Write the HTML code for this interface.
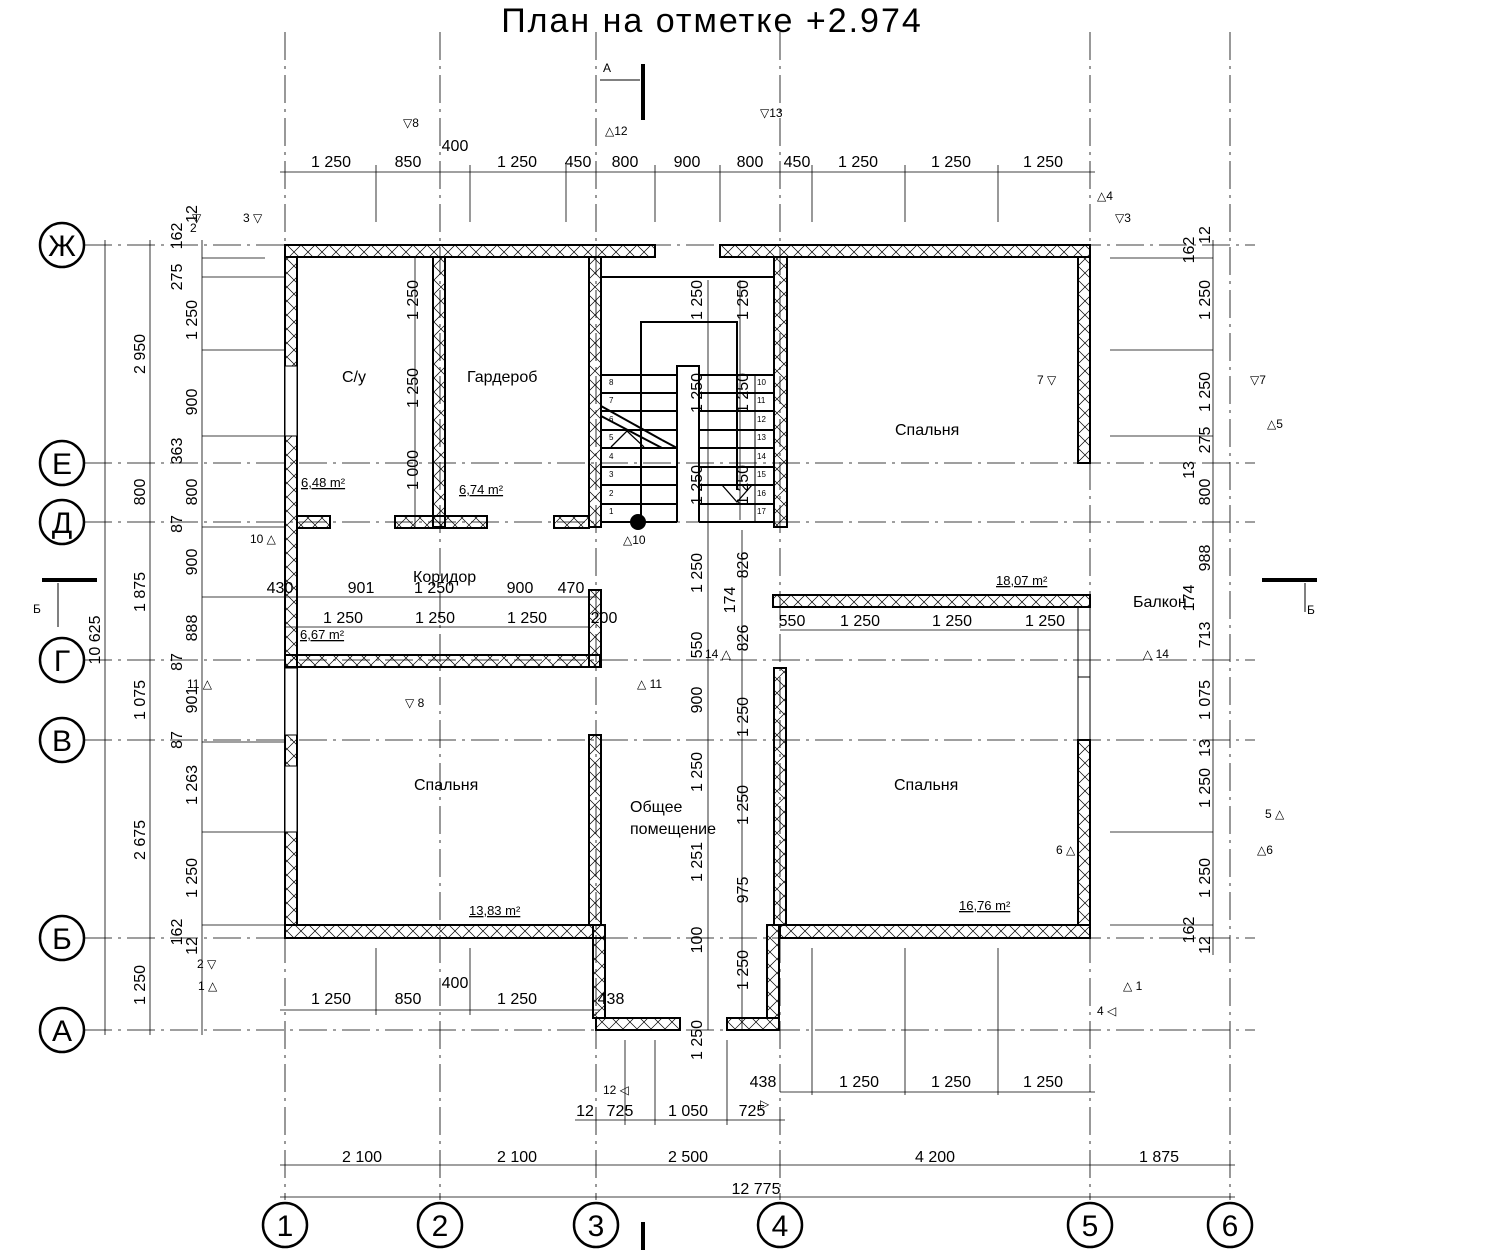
<!DOCTYPE html>
<html><head><meta charset="utf-8"><style>
html,body{margin:0;padding:0;background:#fff}
svg{display:block}
text{font-family:"Liberation Sans","DejaVu Sans",sans-serif;fill:#000}
.d{font-size:16px}
.s{font-size:12px}
.r{font-size:16px}
</style></head><body>
<svg width="1500" height="1250" viewBox="0 0 1500 1250" xmlns="http://www.w3.org/2000/svg">
<defs>
<pattern id="h" width="14" height="14" patternUnits="userSpaceOnUse">
<path d="M0 0L14 14M14 0L0 14" stroke="#000" stroke-width="0.7"/>
</pattern>
</defs>
<text x="712" y="32" text-anchor="middle" style="font-size:34px;letter-spacing:2px">План на отметке +2.974</text>

<!-- grid lines -->
<g stroke="#000" stroke-width="0.8" stroke-dasharray="28,6,3,6">
<line x1="285" y1="32" x2="285" y2="1200"/>
<line x1="440" y1="32" x2="440" y2="1200"/>
<line x1="596" y1="32" x2="596" y2="1200"/>
<line x1="780" y1="32" x2="780" y2="1200"/>
<line x1="1090" y1="32" x2="1090" y2="1200"/>
<line x1="1230" y1="32" x2="1230" y2="1200"/>
<line x1="84" y1="245" x2="1255" y2="245"/>
<line x1="84" y1="463" x2="1255" y2="463"/>
<line x1="84" y1="522" x2="1255" y2="522"/>
<line x1="84" y1="660" x2="1255" y2="660"/>
<line x1="84" y1="740" x2="1255" y2="740"/>
<line x1="84" y1="938" x2="1255" y2="938"/>
<line x1="84" y1="1030" x2="1255" y2="1030"/>
</g>
<g fill="none" stroke="#000" stroke-width="2.5">
<circle cx="62" cy="245" r="22"/><circle cx="62" cy="463" r="22"/><circle cx="62" cy="522" r="22"/>
<circle cx="62" cy="660" r="22"/><circle cx="62" cy="740" r="22"/><circle cx="62" cy="938" r="22"/><circle cx="62" cy="1030" r="22"/>
<circle cx="285" cy="1225" r="22"/><circle cx="440" cy="1225" r="22"/><circle cx="596" cy="1225" r="22"/>
<circle cx="780" cy="1225" r="22"/><circle cx="1090" cy="1225" r="22"/><circle cx="1230" cy="1225" r="22"/>
</g>
<g style="font-size:30px" text-anchor="middle">
<text x="62" y="256">Ж</text><text x="62" y="474">Е</text><text x="62" y="533">Д</text><text x="62" y="671">Г</text>
<text x="62" y="751">В</text><text x="62" y="949">Б</text><text x="62" y="1041">А</text>
<text x="285" y="1236">1</text><text x="440" y="1236">2</text><text x="596" y="1236">3</text>
<text x="780" y="1236">4</text><text x="1090" y="1236">5</text><text x="1230" y="1236">6</text>
</g>

<g stroke="#000" stroke-width="0.8">
<line x1="280" y1="172" x2="1095" y2="172"/>
<line x1="280" y1="1010" x2="600" y2="1010"/>
<line x1="780" y1="1092" x2="1095" y2="1092"/>
<line x1="575" y1="1120" x2="785" y2="1120"/>
<line x1="280" y1="1165" x2="1235" y2="1165"/>
<line x1="280" y1="1197" x2="1235" y2="1197"/>
<line x1="105" y1="240" x2="105" y2="1035"/>
<line x1="150" y1="240" x2="150" y2="1035"/>
<line x1="202" y1="240" x2="202" y2="1035"/>
<line x1="1213" y1="240" x2="1213" y2="955"/>
<line x1="285" y1="597" x2="596" y2="597"/>
<line x1="285" y1="627" x2="590" y2="627"/>
<line x1="780" y1="630" x2="1090" y2="630"/>
<line x1="415" y1="257" x2="415" y2="527"/>
<line x1="708" y1="280" x2="708" y2="1030"/>
<line x1="740" y1="280" x2="740" y2="520"/>
<line x1="742" y1="530" x2="742" y2="1030"/>
<line x1="376" y1="165" x2="376" y2="222"/><line x1="470" y1="165" x2="470" y2="222"/>
<line x1="566" y1="165" x2="566" y2="222"/><line x1="655" y1="165" x2="655" y2="222"/>
<line x1="720" y1="165" x2="720" y2="222"/><line x1="812" y1="165" x2="812" y2="222"/>
<line x1="905" y1="165" x2="905" y2="222"/><line x1="998" y1="165" x2="998" y2="222"/>
<line x1="202" y1="258" x2="265" y2="258"/><line x1="202" y1="277" x2="285" y2="277"/>
<line x1="202" y1="350" x2="285" y2="350"/><line x1="202" y1="436" x2="285" y2="436"/>
<line x1="202" y1="527" x2="285" y2="527"/><line x1="202" y1="597" x2="285" y2="597"/>
<line x1="202" y1="742" x2="285" y2="742"/><line x1="202" y1="832" x2="285" y2="832"/>
<line x1="202" y1="925" x2="285" y2="925"/>
<line x1="1110" y1="258" x2="1213" y2="258"/><line x1="1110" y1="350" x2="1213" y2="350"/>
<line x1="1110" y1="436" x2="1213" y2="436"/><line x1="1110" y1="832" x2="1213" y2="832"/>
<line x1="1110" y1="925" x2="1213" y2="925"/>
<line x1="376" y1="948" x2="376" y2="1015"/><line x1="470" y1="948" x2="470" y2="1015"/>
<line x1="812" y1="948" x2="812" y2="1095"/><line x1="905" y1="948" x2="905" y2="1095"/>
<line x1="998" y1="948" x2="998" y2="1095"/>
<line x1="625" y1="1040" x2="625" y2="1125"/><line x1="655" y1="1040" x2="655" y2="1125"/>
<line x1="727" y1="1040" x2="727" y2="1125"/>
</g>

<g fill="url(#h)" stroke="#000" stroke-width="2">
<rect x="285" y="245" width="370" height="12"/>
<rect x="720" y="245" width="370" height="12"/>
<rect x="285" y="257" width="12" height="668"/>
<rect x="433" y="257" width="12" height="270"/>
<rect x="589" y="257" width="12" height="270"/>
<rect x="589" y="590" width="12" height="77"/>
<rect x="589" y="735" width="12" height="190"/>
<rect x="774" y="257" width="13" height="270"/>
<rect x="774" y="668" width="12" height="257"/>
<rect x="1078" y="257" width="12" height="206"/>
<rect x="1078" y="740" width="12" height="185"/>
<rect x="285" y="925" width="320" height="13"/>
<rect x="780" y="925" width="310" height="13"/>
<rect x="593" y="925" width="12" height="93"/>
<rect x="767" y="925" width="12" height="93"/>
<rect x="297" y="516" width="33" height="12"/>
<rect x="395" y="516" width="92" height="12"/>
<rect x="554" y="516" width="35" height="12"/>
<rect x="285" y="655" width="315" height="12"/>
<rect x="773" y="595" width="317" height="12"/>
<rect x="596" y="1018" width="84" height="12"/>
<rect x="727" y="1018" width="52" height="12"/>
</g>
<!-- windows in left wall -->
<g fill="#fff" stroke="#000" stroke-width="1">
<rect x="285" y="366" width="12" height="70"/>
<rect x="285" y="668" width="12" height="67"/>
<rect x="285" y="766" width="12" height="66"/>
</g>
<g stroke="#000" stroke-width="1" fill="none">
<line x1="1078" y1="607" x2="1078" y2="740"/><line x1="1090" y1="607" x2="1090" y2="740"/>
<line x1="1078" y1="677" x2="1090" y2="677"/>
</g>

<g stroke="#000" stroke-width="2" fill="none">
<polyline points="601,277 774,277 774,520"/>
<line x1="601" y1="277" x2="601" y2="520"/>
<polyline points="641,520 641,322 737,322 737,490"/>
<polyline points="601,375 677,375 677,366 699,366 699,375 774,375"/>
<line x1="677" y1="366" x2="677" y2="522"/>
<line x1="699" y1="366" x2="699" y2="522"/>
<line x1="601" y1="522" x2="677" y2="522"/>
<line x1="699" y1="522" x2="774" y2="522"/>
<line x1="601" y1="393" x2="677" y2="393"/><line x1="601" y1="411" x2="677" y2="411"/>
<line x1="601" y1="430" x2="677" y2="430"/><line x1="601" y1="448" x2="677" y2="448"/>
<line x1="601" y1="467" x2="677" y2="467"/><line x1="601" y1="485" x2="677" y2="485"/>
<line x1="601" y1="504" x2="677" y2="504"/>
<line x1="699" y1="393" x2="774" y2="393"/><line x1="699" y1="411" x2="774" y2="411"/>
<line x1="699" y1="430" x2="774" y2="430"/><line x1="699" y1="448" x2="774" y2="448"/>
<line x1="699" y1="467" x2="774" y2="467"/><line x1="699" y1="485" x2="774" y2="485"/>
<line x1="699" y1="504" x2="774" y2="504"/>
<line x1="755" y1="375" x2="755" y2="522" stroke-width="1"/>
<line x1="601" y1="406" x2="662" y2="440"/><line x1="601" y1="416" x2="662" y2="448" />
<line x1="662" y1="440" x2="677" y2="448"/>
<polyline points="611,447 627,431 644,447" stroke-width="1.3"/>
<polyline points="722,485 737,502 752,485" stroke-width="1.3"/>
</g>
<circle cx="638" cy="522" r="8" fill="#000"/>
<g class="s" style="font-size:8px">
<text x="609" y="385">8</text><text x="609" y="403">7</text><text x="609" y="422">6</text><text x="609" y="440">5</text>
<text x="609" y="459">4</text><text x="609" y="477">3</text><text x="609" y="496">2</text><text x="609" y="514">1</text>
<text x="757" y="385">10</text><text x="757" y="403">11</text><text x="757" y="422">12</text><text x="757" y="440">13</text>
<text x="757" y="459">14</text><text x="757" y="477">15</text><text x="757" y="496">16</text><text x="757" y="514">17</text>
</g>

<g stroke="#000" fill="none">
<line x1="643" y1="64" x2="643" y2="120" stroke-width="4"/>
<line x1="600" y1="80" x2="640" y2="80" stroke-width="1"/>
<line x1="42" y1="580" x2="97" y2="580" stroke-width="4"/>
<line x1="58" y1="583" x2="58" y2="627" stroke-width="1"/>
<line x1="1262" y1="580" x2="1317" y2="580" stroke-width="4"/>
<line x1="1305" y1="583" x2="1305" y2="612" stroke-width="1"/>
<line x1="643" y1="1222" x2="643" y2="1250" stroke-width="4"/>
</g>
<text x="603" y="72" class="s">А</text>
<text x="33" y="613" class="s">Б</text>
<text x="1307" y="614" class="s">Б</text>

<g class="r">
<text x="342" y="382">С/у</text><text x="467" y="382">Гардероб</text>
<text x="895" y="435">Спальня</text>
<text x="413" y="582">Коридор</text>
<text x="414" y="790">Спальня</text>
<text x="894" y="790">Спальня</text>
<text x="630" y="812">Общее</text><text x="630" y="834">помещение</text>
<text x="1133" y="607">Балкон</text>
</g>
<g style="font-size:13px" text-decoration="underline">
<text x="301" y="487">6,48 m²</text><text x="459" y="494">6,74 m²</text>
<text x="300" y="639">6,67 m²</text><text x="469" y="915">13,83 m²</text>
<text x="959" y="910">16,76 m²</text><text x="996" y="585">18,07 m²</text>
</g>

<g class="d" text-anchor="middle">
<text x="331" y="167">1 250</text><text x="408" y="167">850</text><text x="455" y="151">400</text>
<text x="517" y="167">1 250</text><text x="578" y="167">450</text><text x="625" y="167">800</text>
<text x="687" y="167">900</text><text x="750" y="167">800</text><text x="797" y="167">450</text>
<text x="858" y="167">1 250</text><text x="951" y="167">1 250</text><text x="1043" y="167">1 250</text>
<text x="280" y="593">430</text><text x="361" y="593">901</text><text x="434" y="593">1 250</text>
<text x="520" y="593">900</text><text x="571" y="593">470</text>
<text x="343" y="623">1 250</text><text x="435" y="623">1 250</text><text x="527" y="623">1 250</text>
<text x="604" y="623">200</text>
<text x="792" y="626">550</text><text x="860" y="626">1 250</text><text x="952" y="626">1 250</text><text x="1045" y="626">1 250</text>
<text x="331" y="1004">1 250</text><text x="408" y="1004">850</text><text x="455" y="988">400</text>
<text x="517" y="1004">1 250</text><text x="611" y="1004">438</text>
<text x="763" y="1087">438</text>
<text x="859" y="1087">1 250</text><text x="951" y="1087">1 250</text><text x="1043" y="1087">1 250</text>
<text x="585" y="1116">12</text><text x="620" y="1116">725</text><text x="688" y="1116">1 050</text><text x="752" y="1116">725</text>
<text x="362" y="1162">2 100</text><text x="517" y="1162">2 100</text><text x="688" y="1162">2 500</text>
<text x="935" y="1162">4 200</text><text x="1159" y="1162">1 875</text>
<text x="756" y="1194">12 775</text>
</g>

<g class="d" text-anchor="middle">
<text transform="translate(100,640) rotate(-90)">10 625</text>
<text transform="translate(145,354) rotate(-90)">2 950</text>
<text transform="translate(145,492) rotate(-90)">800</text>
<text transform="translate(145,592) rotate(-90)">1 875</text>
<text transform="translate(145,700) rotate(-90)">1 075</text>
<text transform="translate(145,840) rotate(-90)">2 675</text>
<text transform="translate(145,985) rotate(-90)">1 250</text>
<text transform="translate(182,236) rotate(-90)">162</text>
<text transform="translate(197,214) rotate(-90)">12</text>
<text transform="translate(182,277) rotate(-90)">275</text>
<text transform="translate(197,320) rotate(-90)">1 250</text>
<text transform="translate(197,402) rotate(-90)">900</text>
<text transform="translate(182,451) rotate(-90)">363</text>
<text transform="translate(197,492) rotate(-90)">800</text>
<text transform="translate(182,524) rotate(-90)">87</text>
<text transform="translate(197,562) rotate(-90)">900</text>
<text transform="translate(197,628) rotate(-90)">888</text>
<text transform="translate(182,662) rotate(-90)">87</text>
<text transform="translate(197,700) rotate(-90)">901</text>
<text transform="translate(182,740) rotate(-90)">87</text>
<text transform="translate(197,785) rotate(-90)">1 263</text>
<text transform="translate(197,878) rotate(-90)">1 250</text>
<text transform="translate(182,932) rotate(-90)">162</text>
<text transform="translate(197,946) rotate(-90)">12</text>
<text transform="translate(1194,250) rotate(-90)">162</text>
<text transform="translate(1210,235) rotate(-90)">12</text>
<text transform="translate(1210,300) rotate(-90)">1 250</text>
<text transform="translate(1210,392) rotate(-90)">1 250</text>
<text transform="translate(1194,470) rotate(-90)">13</text>
<text transform="translate(1210,440) rotate(-90)">275</text>
<text transform="translate(1210,492) rotate(-90)">800</text>
<text transform="translate(1210,558) rotate(-90)">988</text>
<text transform="translate(1194,598) rotate(-90)">174</text>
<text transform="translate(1210,635) rotate(-90)">713</text>
<text transform="translate(1210,700) rotate(-90)">1 075</text>
<text transform="translate(1210,748) rotate(-90)">13</text>
<text transform="translate(1210,788) rotate(-90)">1 250</text>
<text transform="translate(1210,878) rotate(-90)">1 250</text>
<text transform="translate(1194,930) rotate(-90)">162</text>
<text transform="translate(1210,945) rotate(-90)">12</text>
<text transform="translate(418,300) rotate(-90)">1 250</text>
<text transform="translate(418,388) rotate(-90)">1 250</text>
<text transform="translate(418,470) rotate(-90)">1 000</text>
<text transform="translate(702,300) rotate(-90)">1 250</text>
<text transform="translate(702,393) rotate(-90)">1 250</text>
<text transform="translate(702,485) rotate(-90)">1 250</text>
<text transform="translate(748,300) rotate(-90)">1 250</text>
<text transform="translate(748,393) rotate(-90)">1 250</text>
<text transform="translate(748,485) rotate(-90)">1 250</text>
<text transform="translate(702,573) rotate(-90)">1 250</text>
<text transform="translate(702,645) rotate(-90)">550</text>
<text transform="translate(702,700) rotate(-90)">900</text>
<text transform="translate(702,772) rotate(-90)">1 250</text>
<text transform="translate(702,862) rotate(-90)">1 251</text>
<text transform="translate(702,940) rotate(-90)">100</text>
<text transform="translate(702,1040) rotate(-90)">1 250</text>
<text transform="translate(748,565) rotate(-90)">826</text>
<text transform="translate(735,600) rotate(-90)">174</text>
<text transform="translate(748,638) rotate(-90)">826</text>
<text transform="translate(748,717) rotate(-90)">1 250</text>
<text transform="translate(748,805) rotate(-90)">1 250</text>
<text transform="translate(748,890) rotate(-90)">975</text>
<text transform="translate(748,970) rotate(-90)">1 250</text>
</g>

<g class="s">
<text x="403" y="127">▽8</text><text x="760" y="117">▽13</text><text x="605" y="135">△12</text>
<text x="243" y="222">3 ▽</text><text x="190" y="232">2</text><text x="192" y="222">▽</text>
<text x="1097" y="200">△4</text><text x="1115" y="222">▽3</text>
<text x="1037" y="384">7 ▽</text><text x="1250" y="384">▽7</text><text x="1267" y="428">△5</text>
<text x="250" y="543">10 △</text><text x="623" y="544">△10</text>
<text x="187" y="688">11 △</text><text x="637" y="688">△ 11</text><text x="405" y="707">▽ 8</text>
<text x="705" y="658">14 △</text><text x="1143" y="658">△ 14</text>
<text x="1265" y="818">5 △</text><text x="1257" y="854">△6</text><text x="1056" y="854">6 △</text>
<text x="197" y="968">2 ▽</text><text x="198" y="990">1 △</text>
<text x="1123" y="990">△ 1</text><text x="1097" y="1015">4 ◁</text>
<text x="603" y="1094">12 ◁</text><text x="760" y="1108">▷</text>
</g>
</svg>
</body></html>
